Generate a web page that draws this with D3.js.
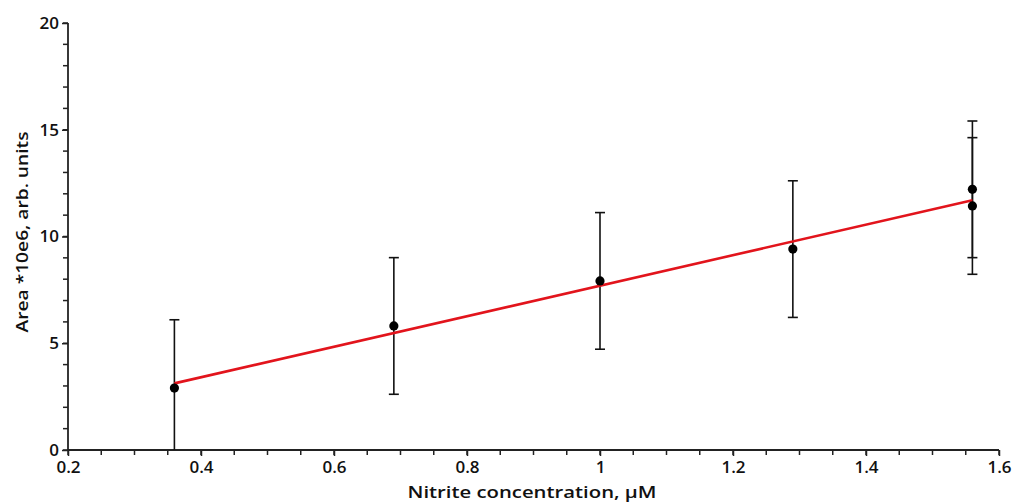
<!DOCTYPE html>
<html><head><meta charset="utf-8">
<script src="https://cdn.jsdelivr.net/npm/d3@7"></script>
<style>
html,body{margin:0;padding:0;background:#fff;}
svg text{font-family:"Open Sans","DejaVu Sans",sans-serif;fill:#111;}
</style></head>
<body><svg id="c" width="1012" height="502"></svg>
<script>
const xValues = [0.36, 0.69, 1.0, 1.29, 1.56, 1.56];
const yValues = [2.90, 5.81, 7.92, 9.41, 12.21, 11.43];
const yErrors = [3.2, 3.2, 3.2, 3.2, 3.2, 3.2];
const fitX = [0.36, 1.56];
const fitY = [3.12, 11.70];
const xTickLabels = [0.2, 0.4, 0.6, 0.8, 1, 1.2, 1.4, 1.6];
const yTickLabels = [0, 5, 10, 15, 20];
const xLabel = "Nitrite concentration, μM";
const yLabel = "Area *10e6, arb. units";

const svg = d3.select("#c");
const x = d3.scaleLinear().domain([0.2, 1.6]).range([68, 999]);
const y = d3.scaleLinear().domain([0, 20]).range([450, 23]);

const g = svg.append("g");

// minor ticks
const xMinor = d3.range(0.2, 1.6001, 0.05).map(v => +v.toFixed(2));
const yMinor = d3.range(0, 20.001, 1);

g.selectAll(".xm").data(xMinor).join("line")
  .attr("x1", d => x(d)).attr("x2", d => x(d))
  .attr("y1", y(0)).attr("y2", y(0) + 5)
  .attr("stroke", "#222").attr("stroke-width", 1.5);
g.selectAll(".ym").data(yMinor).join("line")
  .attr("x1", x(0.2) - 5).attr("x2", x(0.2))
  .attr("y1", d => y(d)).attr("y2", d => y(d))
  .attr("stroke", "#222").attr("stroke-width", 1.5);

// axes
const xAxis = d3.axisBottom(x).tickValues(xTickLabels).tickFormat(d => String(d)).tickSize(6).tickPadding(5);
const yAxis = d3.axisLeft(y).tickValues(yTickLabels).tickFormat(d => String(d)).tickSize(6).tickPadding(3);

const gx = svg.append("g").attr("transform", `translate(0,${y(0)})`).call(xAxis);
const gy = svg.append("g").attr("transform", `translate(${x(0.2)},0)`).call(yAxis);
[gx, gy].forEach(a => {
  a.select(".domain").attr("stroke", "#222").attr("stroke-width", 1.8);
  a.selectAll(".tick line").attr("stroke", "#222").attr("stroke-width", 1.5);
  a.selectAll(".tick text").attr("font-size", 17).attr("font-weight", 600)
    .attr("font-family", "'Open Sans','DejaVu Sans',sans-serif").attr("fill", "#111");
});
gx.select(".domain").attr("d", `M${x(0.2)},0H${x(1.6)}`);
gy.select(".domain").attr("d", `M0,${y(0)}V${y(20)}`);

// error bars
const pts = xValues.map((v, i) => ({x: v, y: yValues[i], e: yErrors[i]}));
const eb = svg.append("g");
pts.forEach(p => {
  const lo = Math.max(0, p.y - p.e), hi = p.y + p.e;
  eb.append("line").attr("x1", x(p.x)).attr("x2", x(p.x)).attr("y1", y(lo)).attr("y2", y(hi))
    .attr("stroke", "#111").attr("stroke-width", 1.6);
  eb.append("line").attr("x1", x(p.x) - 5).attr("x2", x(p.x) + 5).attr("y1", y(hi)).attr("y2", y(hi))
    .attr("stroke", "#111").attr("stroke-width", 1.6);
  if (p.y - p.e > 0) {
    eb.append("line").attr("x1", x(p.x) - 5).attr("x2", x(p.x) + 5).attr("y1", y(lo)).attr("y2", y(lo))
      .attr("stroke", "#111").attr("stroke-width", 1.6);
  }
});

// fit line
svg.append("path")
  .datum(fitX.map((v, i) => [v, fitY[i]]))
  .attr("d", d3.line().x(d => x(d[0])).y(d => y(d[1])))
  .attr("stroke", "#e2141c").attr("stroke-width", 2.6).attr("fill", "none");

// points
svg.append("g").selectAll("circle").data(pts).join("circle")
  .attr("cx", d => x(d.x)).attr("cy", d => y(d.y)).attr("r", 4.6).attr("fill", "#000");

// labels
svg.append("text").attr("x", 532).attr("y", 498).attr("text-anchor", "middle")
  .attr("font-size", 17).attr("font-weight", 600)
  .attr("textLength", 249).attr("lengthAdjust", "spacingAndGlyphs").text(xLabel);
svg.append("text").attr("transform", "translate(28,232) rotate(-90)").attr("text-anchor", "middle")
  .attr("font-size", 17).attr("font-weight", 600)
  .attr("textLength", 201).attr("lengthAdjust", "spacingAndGlyphs").text(yLabel);
</script></body></html>
